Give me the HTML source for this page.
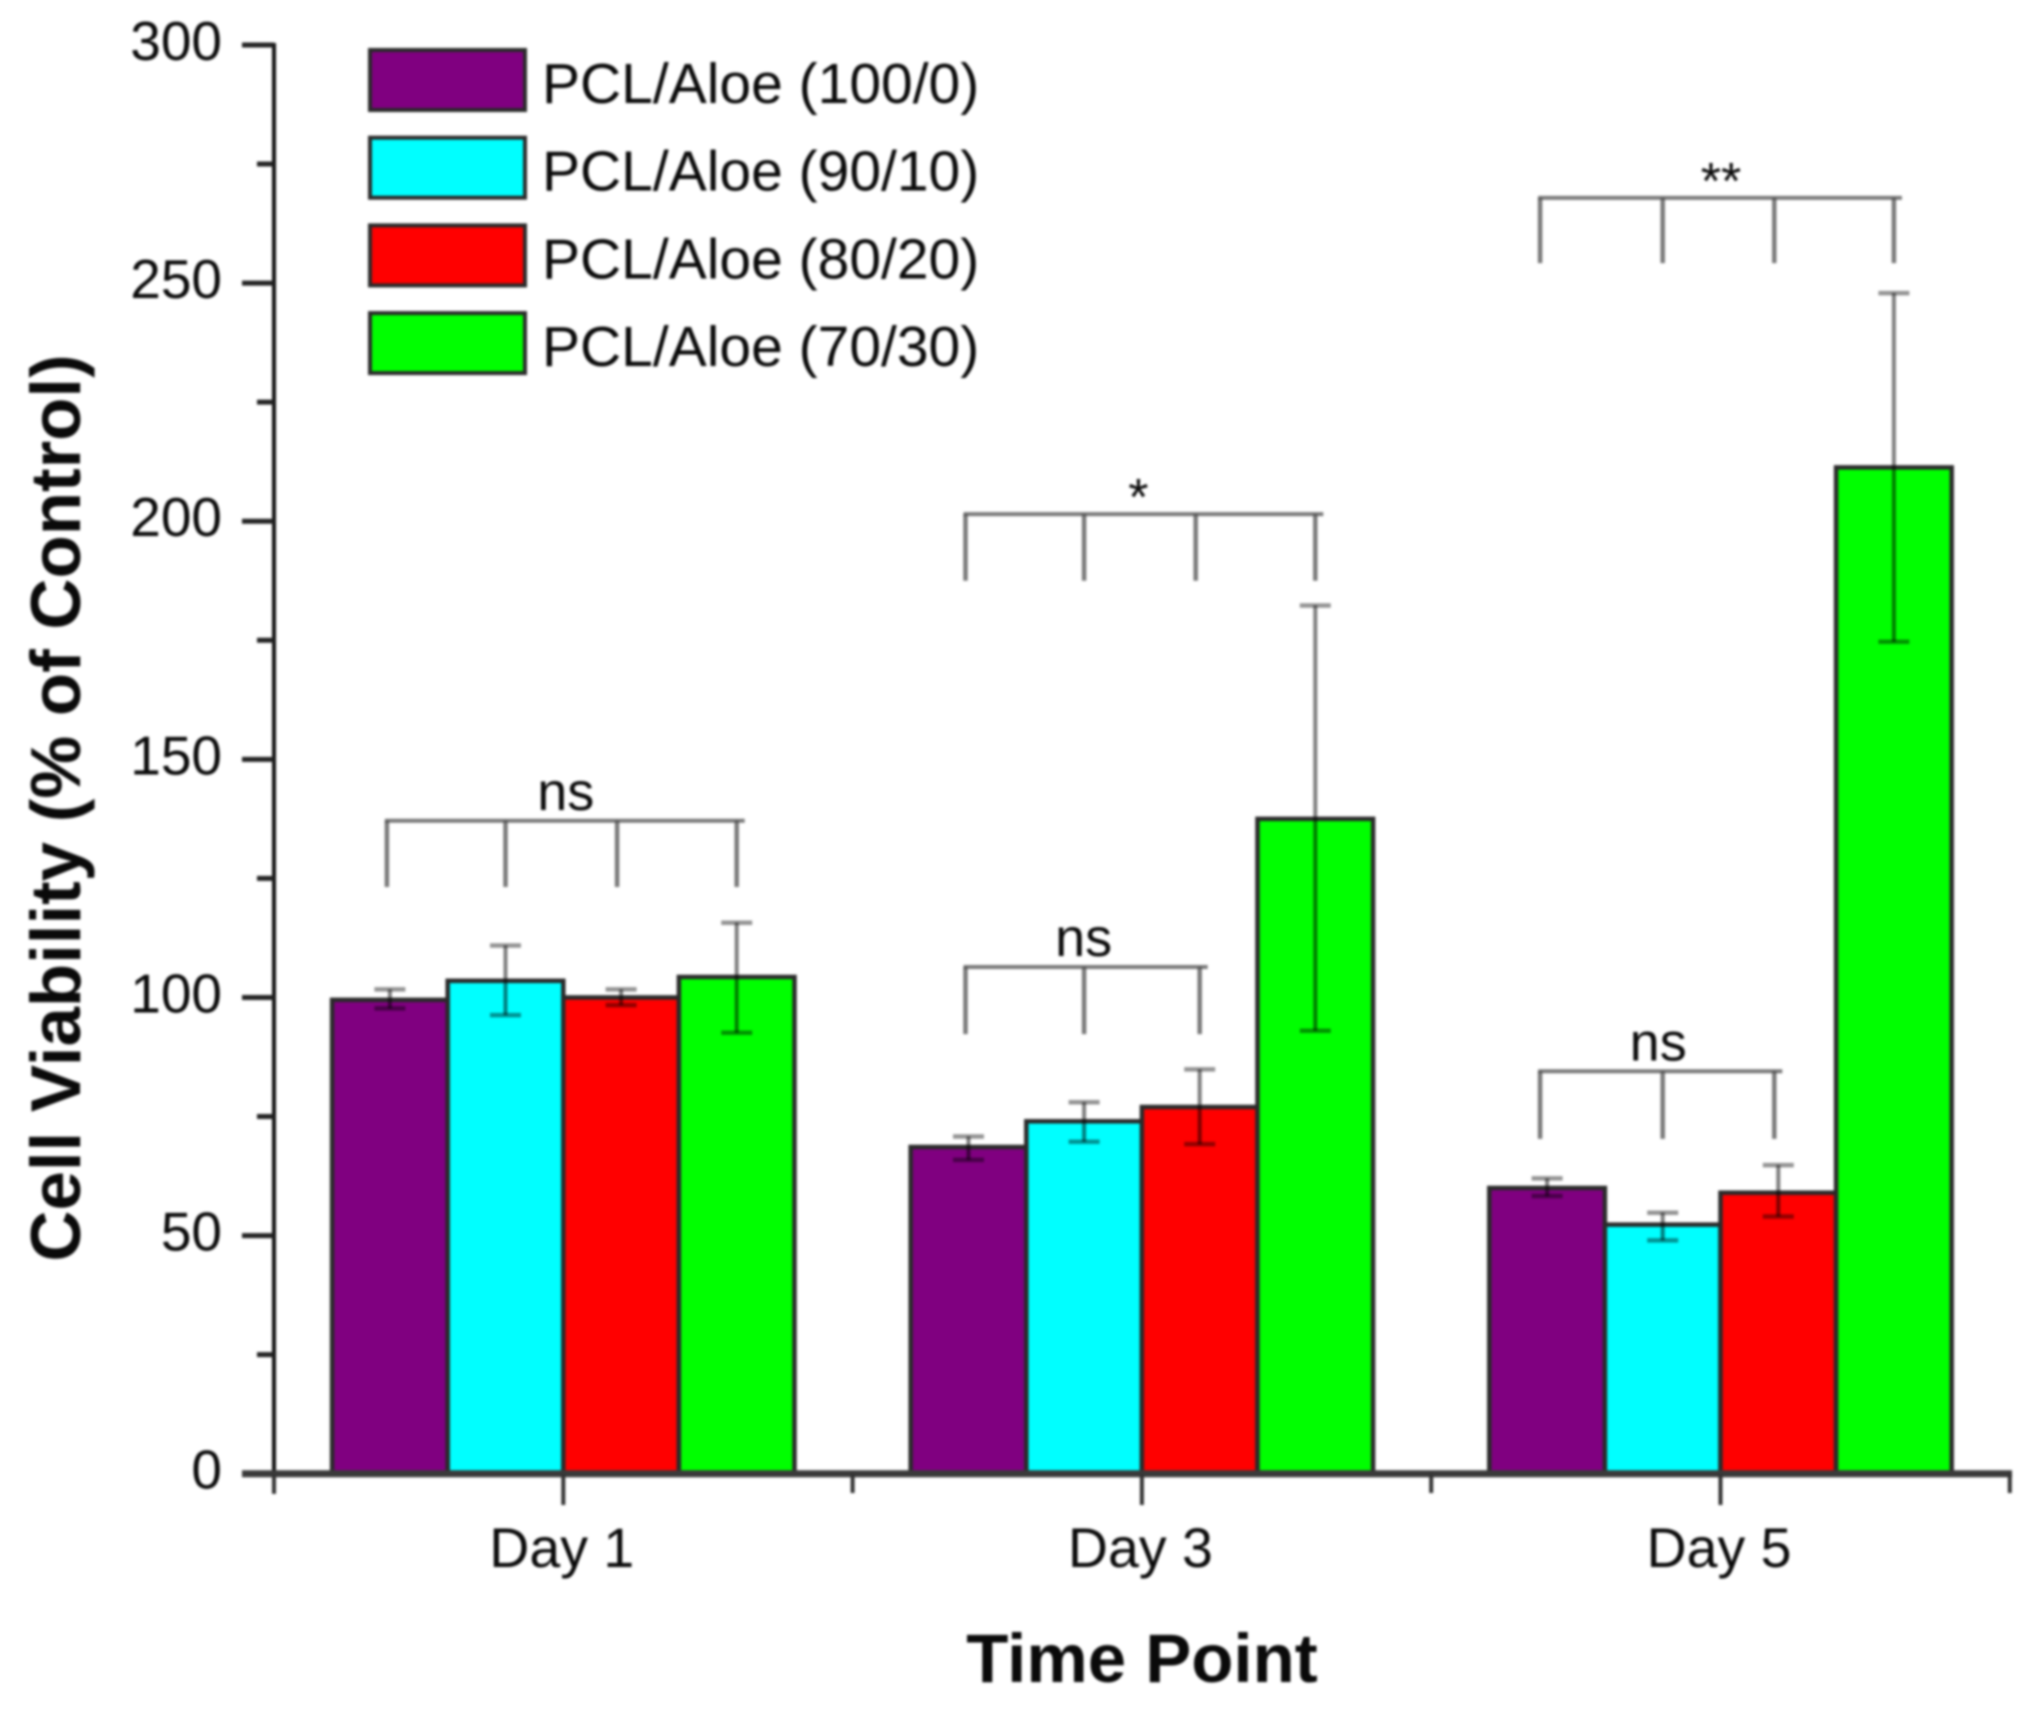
<!DOCTYPE html>
<html lang="en">
<head>
<meta charset="utf-8">
<title>Cell Viability by Time Point</title>
<style>
html,body{margin:0;padding:0;background:#fff;}
#chart{display:block;width:2025px;height:1715px;filter:blur(1.2px);font-family:"Liberation Sans",Arial,sans-serif;}
text{fill:#0a0a0a;}
</style>
</head>
<body>
<svg id="chart" xmlns="http://www.w3.org/2000/svg" width="2025" height="1715" viewBox="0 0 2025 1715">
  <rect x="0" y="0" width="2025" height="1715" fill="#fff"/>
  <text transform="translate(80,808) rotate(-90)" text-anchor="middle" font-size="70.8" font-weight="bold">Cell Viability (% of Control)</text>
  <text x="1142" y="1682" text-anchor="middle" font-size="69" font-weight="bold">Time Point</text>
  <g id="bars"></g>
  <g id="errors"></g>
  <g id="axes"></g>
  <g id="brackets"></g>
  <g id="legend"></g>
</svg>
<script>
var categories = ['Day 1', 'Day 3', 'Day 5'];
var seriesNames = ['PCL/Aloe (100/0)', 'PCL/Aloe (90/10)', 'PCL/Aloe (80/20)', 'PCL/Aloe (70/30)'];
var seriesColors = ['#800080', '#00ffff', '#ff0000', '#00ff00'];
var series100 = [99.5, 68.6, 60];
var series90 = [103.5, 74, 52.3];
var series80 = [100, 77, 59];
var series70 = [104.3, 137.5, 211.3];
var upper100 = [101.7, 70.8, 62];
var upper90 = [110.9, 78, 54.8];
var upper80 = [101.7, 84.9, 64.8];
var upper70 = [115.7, 182.3, 247.9];
var lower100 = [97.7, 65.9, 58.3];
var lower90 = [96.3, 69.7, 49];
var lower80 = [98.4, 69.2, 54];
var lower70 = [92.6, 93, 174.7];
var yTickLabels = [0, 50, 100, 150, 200, 250, 300];
var yMinorTicks = [25, 75, 125, 175, 225, 275];
var bracketCategory = [0, 1, 1, 2, 2];
var bracketBarCount = [4, 4, 3, 4, 3];
var bracketLevel = [137.1, 201.5, 106.4, 267.9, 84.5];
var bracketBottom = [123.2, 187.5, 92.3, 254.2, 70.3];
var bracketLabels = ['ns', '*', 'ns', '**', 'ns'];

var allSeries = [series100, series90, series80, series70];
var allUpper = [upper100, upper90, upper80, upper70];
var allLower = [lower100, lower90, lower80, lower70];

var NS = 'http://www.w3.org/2000/svg';
var plotLeft = 274, plotRight = 2012, plotBottom = 1473.7, plotTop = 45, yMax = 300;
var bandWidth = 578.6;
var barWidth = 115.6;

function yScale(v) { return plotBottom - (v / yMax) * (plotBottom - plotTop); }
function bandCenter(i) { return plotLeft + bandWidth * (i + 0.5); }
function barLeft(c, s) { return bandCenter(c) - barWidth * 2 + s * barWidth; }
function barCenter(c, s) { return barLeft(c, s) + barWidth / 2; }

function make(tag, parent, attrs) {
  var el = document.createElementNS(NS, tag);
  for (var k in attrs) { el.setAttribute(k, attrs[k]); }
  parent.appendChild(el);
  return el;
}
function makeLine(parent, x1, y1, x2, y2, color, width) {
  return make('line', parent, {x1: x1, y1: y1, x2: x2, y2: y2, stroke: color, 'stroke-width': width});
}

var barsG = document.getElementById('bars');
var errorsG = document.getElementById('errors');
var axesG = document.getElementById('axes');
var bracketsG = document.getElementById('brackets');
var legendG = document.getElementById('legend');

/* bars + error bars */
allSeries.forEach(function (vals, s) {
  vals.forEach(function (v, c) {
    var r = make('rect', barsG, {
      x: barLeft(c, s), y: yScale(v), width: barWidth, height: plotBottom - yScale(v),
      fill: seriesColors[s], stroke: '#2a2a2a', 'stroke-width': 4.5
    });
    
    

    var cx = barCenter(c, s);
    var e = make('g', errorsG, {stroke: 'rgba(0,0,0,0.5)', 'stroke-width': 3.5, fill: 'none'});
    
    
    makeLine(e, cx, yScale(allUpper[s][c]), cx, yScale(allLower[s][c]), 'rgba(0,0,0,0.5)', 4);
    makeLine(e, cx - 15.5, yScale(allUpper[s][c]), cx + 15.5, yScale(allUpper[s][c]), 'rgba(0,0,0,0.42)', 4.5);
    makeLine(e, cx - 15.5, yScale(allLower[s][c]), cx + 15.5, yScale(allLower[s][c]), 'rgba(0,0,0,0.42)', 4.5);
  });
});

/* y axis */
var yLine = makeLine(axesG, plotLeft, plotTop - 2, plotLeft, plotBottom + 20, '#111', 4);



yTickLabels.forEach(function (v) {
  var t = makeLine(axesG, plotLeft - 32, yScale(v), plotLeft, yScale(v), '#222', 5);
  
  
  var l = make('text', axesG, {x: 222, y: yScale(v) + 15, 'text-anchor': 'end', 'font-size': 55});
  
  
  l.textContent = String(v);
});
yMinorTicks.forEach(function (v) {
  var t = makeLine(axesG, plotLeft - 17, yScale(v), plotLeft, yScale(v), '#222', 5);
  
  
});

/* x axis */
var xLine = makeLine(axesG, plotLeft - 32, plotBottom, plotRight, plotBottom, '#3a3a3a', 7);



categories.forEach(function (name, c) {
  var cx = bandCenter(c);
  var t = makeLine(axesG, cx, plotBottom, cx, 1505, '#333', 4);
  
  
  var l = make('text', axesG, {x: cx - 1.5, y: 1567, 'text-anchor': 'middle', 'font-size': 55.5});
  
  
  l.textContent = name;
});
for (var m = 0; m <= categories.length; m++) {
  var mx = plotLeft + bandWidth * m;
  var mt = makeLine(axesG, mx, plotBottom, mx, 1493, '#333', 4);
  
  
}

/* significance brackets */
bracketLevel.forEach(function (level, i) {
  var c = bracketCategory[i];
  var n = bracketBarCount[i];
  var g = make('g', bracketsG, {});
  
  
  var color = 'rgba(70,70,70,0.72)';
  function dropX(s) {
    var off = 0;
    if (s === 0) { off = c === 2 ? -7 : -3; }
    if (s === 2 && (n === 4 || c === 2)) { off = -4; }
    return barCenter(c, s) + off;
  }
  var firstX = dropX(0);
  var lastX = dropX(n - 1);
  makeLine(g, firstX - 2, yScale(level), lastX + 8, yScale(level), color, 4);
  for (var s = 0; s < n; s++) {
    makeLine(g, dropX(s), yScale(level), dropX(s), yScale(bracketBottom[i]), color, 4.5);
  }
  var isStar = bracketLabels[i].charAt(0) === '*';
  var lx = (firstX + lastX) / 2;
  if (n === 4) { lx += c === 1 ? -2 : 4; }
  else { lx += 1; }
  var ly = isStar ? yScale(level) + 1 : yScale(level) - 11;
  var lab = make('text', g, {x: lx, y: ly, 'text-anchor': 'middle', 'font-size': isStar ? 52 : 54});
  
  
  lab.textContent = bracketLabels[i];
});

/* legend */
var legendTop = 50, legendStep = 87.7, legendH = 60;
seriesNames.forEach(function (name, s) {
  var g = make('g', legendG, {});
  
  
  var sw = make('rect', g, {
    x: 370, y: legendTop + s * legendStep, width: 155, height: legendH,
    fill: seriesColors[s], stroke: '#2a2a2a', 'stroke-width': 4
  });
  
  
  var t = make('text', g, {x: 542, y: legendTop + s * legendStep + 53, 'font-size': 57});
  
  
  t.textContent = name;
});
</script>
</body>
</html>
